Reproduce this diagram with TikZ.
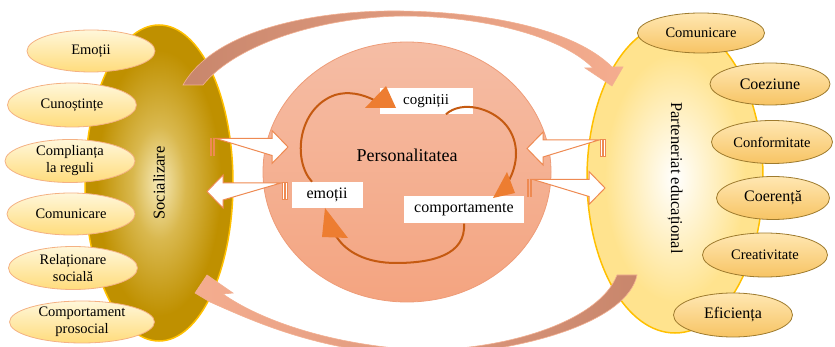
\documentclass[tikz,border=0pt]{standalone}
\usepackage{fontspec}
\setmainfont{Liberation Serif}
\usetikzlibrary{shapes.geometric}
\definecolor{socIn}{HTML}{F6EAB8}
\definecolor{socMid}{HTML}{D9B84E}
\definecolor{socOut}{HTML}{BF9000}
\definecolor{gold}{HTML}{FFC000}
\definecolor{parEdge}{HTML}{FFE38E}
\definecolor{persTop}{HTML}{F5BDA5}
\definecolor{persBot}{HTML}{F4A480}
\definecolor{persLine}{HTML}{EE9C78}
\definecolor{slTop}{HTML}{FFF7DA}
\definecolor{slBot}{HTML}{FFDC7C}
\definecolor{slLine}{HTML}{F4B183}
\definecolor{srTop}{HTML}{FFE7B2}
\definecolor{srBot}{HTML}{F7C464}
\definecolor{srLine}{HTML}{9E7B2E}
\definecolor{cycLine}{HTML}{C55A11}
\definecolor{cycHead}{HTML}{ED7D31}
\definecolor{blkLine}{HTML}{EE8A52}
\definecolor{crvDark}{HTML}{C8866C}
\definecolor{crvLight}{HTML}{F5AD8F}
\definecolor{crvLine}{HTML}{F2B092}
\pgfdeclareradialshading{socshade}{\pgfpoint{0bp}{0bp}}{color(0bp)=(socIn); color(9bp)=(socMid); color(21bp)=(socOut); color(50bp)=(socOut)}
\pgfdeclareradialshading{parshade}{\pgfpoint{0bp}{0bp}}{color(0bp)=(white); color(20bp)=(parEdge); color(25bp)=(parEdge); color(50bp)=(parEdge)}
\newcommand\blkarrow[4]{%
  \draw[blk] ({#1},{#3-8.5}) rectangle ({#1+#4*1.5},{#3+8.5});
  \draw[blk] ({#1+#4*3},{#3-8.5}) rectangle ({#1+#4*4.5},{#3+8.5});
  \draw[blk] ({#1+#4*6},{#3-8.5}) -- ({#2-#4*16},{#3-8.5}) -- ({#2-#4*16},{#3-16.5})
    -- ({#2},{#3}) -- ({#2-#4*16},{#3+16.5}) -- ({#2-#4*16},{#3+8.5}) -- cycle;}
\tikzset{
  bigell/.style={ellipse, inner sep=0pt, draw=gold, line width=1.5pt},
  soc/.style={bigell, shading=socshade, font=\fontsize{16.5}{19}\selectfont},
  par/.style={bigell, shading=parshade, font=\fontsize{16.5}{19}\selectfont},
  pers/.style={ellipse, inner sep=0pt, draw=persLine, line width=0.8pt, top color=persTop, bottom color=persBot},
  lell/.style={ellipse, inner sep=0pt, draw=slLine, line width=0.8pt, top color=slTop, bottom color=slBot, align=center, font=\fontsize{14.5}{17}\selectfont},
  rell/.style={ellipse, inner sep=0pt, draw=srLine, line width=0.8pt, top color=srTop, bottom color=srBot, align=center, font=\fontsize{14.5}{17}\selectfont},
  bigtxt/.style={font=\fontsize{16}{19}\selectfont},
  lbl/.style={rectangle, fill=white, inner sep=0pt, font=\fontsize{16}{19}\selectfont},
  cyc/.style={draw=cycLine, line width=2pt},
  tri/.style={fill=cycHead},
  blk/.style={fill=white, draw=blkLine, line width=1pt, line join=miter},
  crv/.style={draw=crvLine, line width=0.6pt}
}
\begin{document}
\begin{tikzpicture}[x=1pt, y=-1pt]
\useasboundingbox (0,0) rectangle (835,347);
% big shapes
\node[soc, rotate=90, minimum width=316pt, minimum height=148pt] (soc) at (159,183) {Socializare};
\node[par, rotate=-90, minimum width=310pt, minimum height=176pt] (par) at (675,178) {Parteneriat educațional};
\node[pers, minimum width=288pt, minimum height=260pt] (pers) at (407,172) {};
\node[font=\fontsize{18}{21}\selectfont] (perstxt) at (407,155) {Personalitatea};
% curved arrows
\path[crv, left color=crvDark, right color=crvLight]
  (183,85) .. controls (215,28) and (320,10) .. (400,11)
  .. controls (490,12) and (575,30) .. (612,67)
  -- (623,67) -- (612,86) -- (585,68) -- (593,68)
  .. controls (560,35) and (480,16) .. (403,16)
  .. controls (320,17) and (235,45) .. (203,85) -- cycle;
\path[crv, left color=crvLight, right color=crvDark]
  (207,275) -- (233,293) -- (223,294)
  .. controls (260,320) and (330,345) .. (420,350)
  .. controls (510,350) and (600,320) .. (617,275)
  -- (637,275)
  .. controls (628,320) and (530,352) .. (420,356)
  .. controls (320,352) and (255,322) .. (210,302)
  -- (195,293) -- cycle;
% left small ellipses
\node[lell, minimum width=128pt, minimum height=42pt] (l1) at (91,51) {Emoții};
\node[lell, minimum width=129pt, minimum height=44pt] (l2) at (72,105) {Cunoștințe};
\node[lell, minimum width=130pt, minimum height=43pt] (l3) at (70,161) {Complianța\\la reguli};
\node[lell, minimum width=128pt, minimum height=42pt] (l4) at (71,214) {Comunicare};
\node[lell, minimum width=129pt, minimum height=43pt] (l5) at (73,268) {Relaționare\\socială};
\node[lell, minimum width=145pt, minimum height=40pt] (l6) at (82,322) {Comportament\\prosocial};
% right small ellipses
\node[rell, minimum width=127pt, minimum height=40pt] (r1) at (701,33) {Comunicare};
\node[rell, bigtxt, minimum width=120pt, minimum height=42pt] (r2) at (770,84) {Coeziune};
\node[rell, minimum width=121pt, minimum height=43pt] (r3) at (772,142) {Conformitate};
\node[rell, bigtxt, minimum width=113pt, minimum height=43pt] (r4) at (773,198) {Coerență};
\node[rell, minimum width=125pt, minimum height=44pt] (r5) at (765,255) {Creativitate};
\node[rell, bigtxt, minimum width=119pt, minimum height=44pt] (r6) at (733,315) {Eficiența};
% straight block arrows
\blkarrow{210}{288}{147}{1}
\blkarrow{287}{207}{191.5}{(-1)}
\blkarrow{605}{527}{148.5}{(-1)}
\blkarrow{527}{605}{188}{1}
% cycle boxes
\node[lbl, font=\fontsize{15}{18}\selectfont, minimum width=93pt, minimum height=26pt] (cog) at (426,101) {cogniții};
\node[lbl, minimum width=71pt, minimum height=26pt] (emo) at (327,195) {emoții};
\node[lbl, minimum width=120pt, minimum height=27pt] (com) at (464,210) {comportamente};
% cycle arrows
\draw[cyc] ([xshift=-15pt]emo.north) .. controls (292,160) and (298,108) .. (335,95)
  .. controls (348,91) and (362,94) .. (374,100);
\fill[tri] (365,108) -- (386,86) -- (396,108) -- cycle;
\draw[cyc] ([xshift=20pt]cog.south) .. controls (462,100) and (492,108) .. (506,125)
  .. controls (520,142) and (518,165) .. (508,182);
\fill[tri] (493,198) -- (507,172) -- (515,193) -- cycle;
\draw[cyc] (com.south) .. controls (466,255) and (432,263) .. (396,263)
  .. controls (366,263) and (346,252) .. (336,236);
\fill[tri] (322,237) -- (325,208) -- (348,238) -- cycle;
\end{tikzpicture}
\end{document}
